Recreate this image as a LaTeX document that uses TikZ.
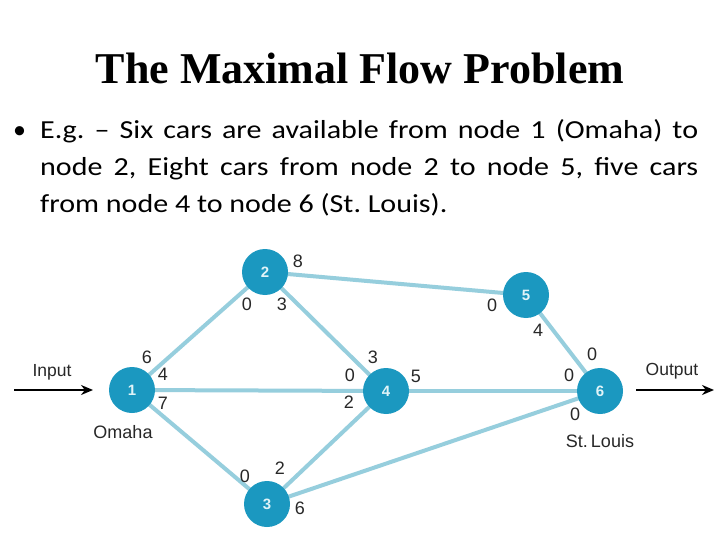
\documentclass[tikz,border=0pt]{standalone}
\usepackage{fontspec}
\setmainfont{Liberation Sans}
\newfontfamily\titlefont{Liberation Serif}
\newfontfamily\bodyfont{Carlito}
\usetikzlibrary{arrows.meta}
\definecolor{nodecol}{RGB}{27,152,192}
\definecolor{edgecol}{RGB}{150,206,221}
\definecolor{labcol}{RGB}{40,40,40}
\definecolor{numcol}{RGB}{225,244,248}
\newcommand{\wideline}[2]{\scalebox{1.155}[1]{\makebox[#1][s]{#2}}}
\tikzset{
  netnode/.style={circle,fill=nodecol,minimum size=46pt,inner sep=0pt,text=numcol,font=\fontsize{15}{15}\selectfont\bfseries},
  netedge/.style={draw=edgecol,line width=4pt},
  caplab/.style={text=labcol,font=\fontsize{18}{18}\selectfont,inner sep=0pt},
  iolab/.style={text=labcol,font=\fontsize{17.5}{17.5}\selectfont,inner sep=0pt},
  ioarrow/.style={draw=black,line width=2pt,-{Stealth[length=12pt,width=10pt]}},
  bodyline/.style={anchor=base west,inner sep=0pt,font=\bodyfont\fontsize{26}{26}\selectfont\frenchspacing}
}
\begin{document}
\begin{tikzpicture}[x=1pt,y=-1pt]
\useasboundingbox (0,0) rectangle (720,540);
\fill[white] (0,0) rectangle (720,540);
% title
\node[anchor=base,inner sep=0pt,font=\titlefont\bfseries\fontsize{44}{44}\selectfont] (title) at (360,84) {The Maximal Flow Problem};
% bullet text
\node[bodyline] (bullet) at (13,139) {•};
\node[bodyline] (l1) at (40,139) {\wideline{569.7pt}{E.g. – Six cars are available from node 1 (Omaha) to}};
\node[bodyline] (l2) at (40,175.5) {\wideline{569.7pt}{node 2, Eight cars from node 2 to node 5, five cars}};
\node[bodyline] (l3) at (40,212) {\scalebox{1.155}[1]{from node 4 to node 6 (St. Louis).}};
% nodes
\coordinate (p1) at (132,390);
\coordinate (p2) at (265,272);
\coordinate (p3) at (267,504);
\coordinate (p4) at (386,391);
\coordinate (p5) at (526,295);
\coordinate (p6) at (600,391);
\draw[netedge] (p1) -- (p2);
\draw[netedge] (p1) -- (p4);
\draw[netedge] (p1) -- (p3);
\draw[netedge] (p2) -- (p5);
\draw[netedge] (p2) -- (p4);
\draw[netedge] (p3) -- (p4);
\draw[netedge] (p3) -- (p6);
\draw[netedge] (p4) -- (p6);
\draw[netedge] (p5) -- (p6);
\node[netnode] (n1) at (p1) {1};
\node[netnode] (n2) at (p2) {2};
\node[netnode] (n3) at (p3) {3};
\node[netnode] (n4) at (p4) {4};
\node[netnode] (n5) at (p5) {5};
\node[netnode] (n6) at (p6) {6};
% capacities
\node[caplab] (c12) at (147,357) {6};
\node[caplab] (c14) at (163,374) {4};
\node[caplab] (c13) at (163,403) {7};
\node[caplab] (c25) at (298,261) {8};
\node[caplab] (c21) at (247,304) {0};
\node[caplab] (c24) at (282,304) {3};
\node[caplab] (c42) at (373,357) {3};
\node[caplab] (c41) at (350,375) {0};
\node[caplab] (c43) at (349,402) {2};
\node[caplab] (c46) at (416,376) {5};
\node[caplab] (c52) at (492,305) {0};
\node[caplab] (c56) at (538,330) {4};
\node[caplab] (c65) at (592,354) {0};
\node[caplab] (c64) at (569,375) {0};
\node[caplab] (c63) at (575,414) {0};
\node[caplab] (c31) at (245,476) {0};
\node[caplab] (c34) at (280,468) {2};
\node[caplab] (c36) at (300,508) {6};
\node[caplab] (omaha) at (123,432) {Omaha};
\node[caplab] (stl) at (600,441) {St.\,Louis};
% input / output
\node[iolab] (inlab) at (52,372) {Input};
\node[iolab] (outlab) at (672,371) {Output};
\coordinate (inA) at (14,390);
\coordinate (inB) at (93,390);
\coordinate (outA) at (636,390);
\coordinate (outB) at (714,390);
\draw[ioarrow] (inA) -- (inB);
\draw[ioarrow] (outA) -- (outB);
\end{tikzpicture}
\end{document}
